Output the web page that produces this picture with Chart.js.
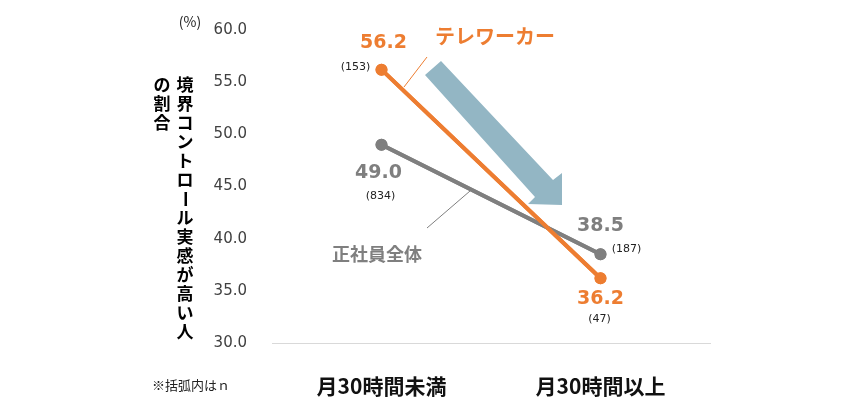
<!DOCTYPE html>
<html><head><meta charset="utf-8">
<script src="https://cdn.jsdelivr.net/npm/chart.js@4"></script>
<style>body{margin:0;background:#fff}#wrap{width:846px;height:410px}</style>
</head><body><div id="wrap"><canvas id="c"></canvas></div>
<script>
const categories = ['月30時間未満', '月30時間以上'];
const teleworker = [56.2, 36.2];
const allStaff = [49.0, 38.5];
const teleworkerN = ['(153)', '(47)'];
const allStaffN = ['(834)', '(187)'];

const ORANGE = '#ED7D31', GRAY = '#7F7F7F';
const JP = '"Noto Sans CJK JP", sans-serif';

// 注記・矢印など
const notes = {
    id: 'notes',
    afterDatasetsDraw(chart) {
        const c = chart.ctx, x = chart.scales.x, y = chart.scales.y;
        c.save();
        // 矢印
        c.fillStyle = '#93B6C4';
        c.beginPath();
        [[425,75],[441,61],[553,180],[562,173],[562,205],[528,204],[535,197]].forEach((p, i) => i ? c.lineTo(p[0], p[1]) : c.moveTo(p[0], p[1]));
        c.closePath(); c.fill();
        // 引き出し線
        c.lineWidth = 1;
        c.strokeStyle = ORANGE;
        c.beginPath(); c.moveTo(427, 57); c.lineTo(404, 87); c.stroke();
        c.strokeStyle = GRAY;
        c.beginPath(); c.moveTo(470, 191); c.lineTo(427, 228); c.stroke();
        c.restore();
        // 再描画（線を矢印の上に）
        chart.getSortedVisibleDatasetMetas().forEach(m => m.controller.draw());
        c.save();
        c.textAlign = 'center'; c.textBaseline = 'middle';
        const x0 = x.getPixelForValue(0), x1 = x.getPixelForValue(1);
        c.font = 'bold 19px Verdana, "DejaVu Sans", sans-serif';
        c.fillStyle = ORANGE;
        c.fillText(teleworker[0].toFixed(1), x0 + 2, y.getPixelForValue(teleworker[0]) - 27);
        c.fillText(teleworker[1].toFixed(1), x1, y.getPixelForValue(teleworker[1]) + 21);
        c.fillStyle = GRAY;
        c.fillText(allStaff[0].toFixed(1), x0 - 3, y.getPixelForValue(allStaff[0]) + 28);
        c.fillText(allStaff[1].toFixed(1), x1, y.getPixelForValue(allStaff[1]) - 28);
        c.font = '11px "DejaVu Sans", sans-serif';
        c.fillStyle = '#222';
        c.fillText(teleworkerN[0], x0 - 26, y.getPixelForValue(teleworker[0]) - 3);
        c.fillText(teleworkerN[1], x1 - 1, y.getPixelForValue(teleworker[1]) + 41);
        c.fillText(allStaffN[0], x0 - 1, y.getPixelForValue(allStaff[0]) + 51);
        c.fillText(allStaffN[1], x1 + 26, y.getPixelForValue(allStaff[1]) - 5);
        // 系列名
        c.font = 'bold 20px ' + JP;
        c.fillStyle = ORANGE;
        c.fillText('テレワーカー', 495, 36);
        c.font = 'bold 18px ' + JP;
        c.fillStyle = GRAY;
        c.fillText('正社員全体', 377, 254);
        // 軸タイトル（縦書き）
        c.fillStyle = '#000';
        c.font = 'bold 17px ' + JP;
        const vert = (s, cx, top, step) => {
            [...s].forEach((ch, i) => {
                const cy = top + i * step;
                if (ch === 'ー') {
                    c.save(); c.translate(cx, cy); c.rotate(Math.PI / 2); c.fillText(ch, 0, 0); c.restore();
                } else c.fillText(ch, cx, cy);
            });
        };
        vert('境界コントロール実感が高い人', 185, 85, 19);
        vert('の割合', 162, 85, 19);
        c.font = '14px ' + JP;
        c.fillStyle = '#222';
        c.fillText('(%)', 190, 22);
        c.font = '13px ' + JP;
        c.textAlign = 'left';
        c.fillText('※括弧内はｎ', 152, 385);
        c.restore();
    }
};

new Chart(document.getElementById('c'), {
    type: 'line',
    data: {
        labels: categories,
        datasets: [
            { label: '正社員全体', data: allStaff, borderColor: GRAY, backgroundColor: GRAY, borderWidth: 4, pointRadius: 4 },
            { label: 'テレワーカー', data: teleworker, borderColor: ORANGE, backgroundColor: ORANGE, borderWidth: 4, pointRadius: 4 }
        ]
    },
    options: {
        responsive: true,
        maintainAspectRatio: false,
        animation: false,
        layout: { padding: { top: 30, right: 136, left: 0, bottom: 0 } },
        plugins: { legend: { display: false }, tooltip: { enabled: false } },
        scales: {
            x: {
                offset: true,
                grid: { display: false },
                border: { color: '#d9d9d9' },
                ticks: { color: '#111', padding: 22, font: { family: JP, size: 21, weight: 'bold' } },
                afterFit: s => { s.height = 67; }
            },
            y: {
                min: 30, max: 60,
                grid: { display: false },
                border: { display: false },
                ticks: { stepSize: 5, color: '#404040', padding: 17, font: { family: 'Verdana, "DejaVu Sans", sans-serif', size: 15 }, callback: v => v.toFixed(1) },
                afterFit: s => { s.width = 272; }
            }
        }
    },
    plugins: [notes]
});
</script></body></html>
